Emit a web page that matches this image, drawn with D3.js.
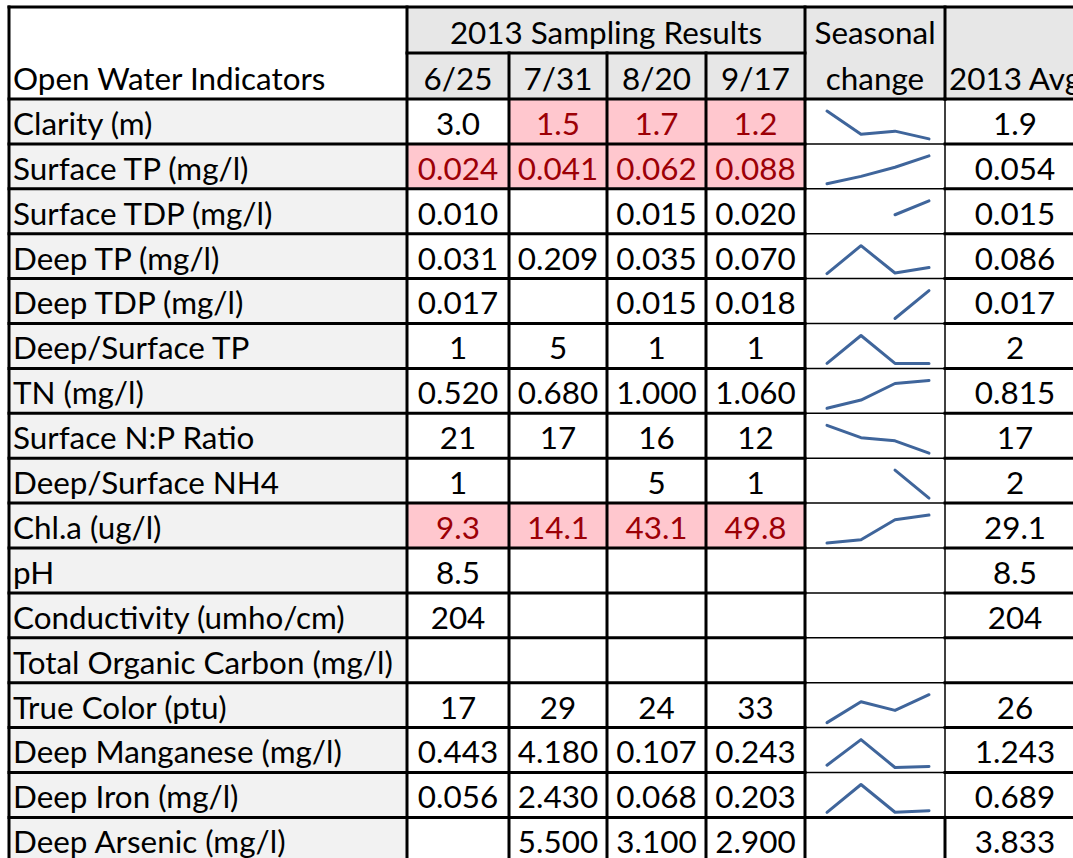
<!DOCTYPE html>
<html>
<head>
<meta charset="utf-8">
<script src="https://cdn.jsdelivr.net/npm/d3@7"></script>
<style>
  body { margin: 0; background: #fff; }
  svg text { font-family: Lato, "Open Sans", sans-serif; fill: #000; }
</style>
</head>
<body>
<div id="table"></div>
<script>
// table data
let indicators = [
  "Clarity (m)", "Surface TP (mg/l)", "Surface TDP (mg/l)", "Deep TP (mg/l)",
  "Deep TDP (mg/l)", "Deep/Surface TP", "TN (mg/l)", "Surface N:P Ratio",
  "Deep/Surface NH4", "Chl.a (ug/l)", "pH", "Conductivity (umho/cm)",
  "Total Organic Carbon (mg/l)", "True Color (ptu)", "Deep Manganese (mg/l)",
  "Deep Iron (mg/l)", "Deep Arsenic (mg/l)"
];
let dates = ["6/25", "7/31", "8/20", "9/17"];

let jun25 = [3.0, 0.024, 0.010, 0.031, 0.017, 1, 0.520, 21, 1, 9.3, 8.5, 204, null, 17, 0.443, 0.056, null];
let jul31 = [1.5, 0.041, null, 0.209, null, 5, 0.680, 17, null, 14.1, null, null, null, 29, 4.180, 2.430, 5.500];
let aug20 = [1.7, 0.062, 0.015, 0.035, 0.015, 1, 1.000, 16, 5, 43.1, null, null, null, 24, 0.107, 0.068, 3.100];
let sep17 = [1.2, 0.088, 0.020, 0.070, 0.018, 1, 1.060, 12, 1, 49.8, null, null, null, 33, 0.243, 0.203, 2.900];
let avg2013 = [1.9, 0.054, 0.015, 0.086, 0.017, 2, 0.815, 17, 2, 29.1, 8.5, 204, null, 26, 1.243, 0.689, 3.833];
let decimals = [1, 3, 3, 3, 3, 0, 3, 0, 0, 1, 1, 0, 0, 0, 3, 3, 3];

// cells flagged red in the sheet: [row, date index]
let flagged = [[0, 1], [0, 2], [0, 3], [1, 0], [1, 1], [1, 2], [1, 3], [9, 0], [9, 1], [9, 2], [9, 3]];
// rows whose seasonal sparkline is blank in the sheet
let noTrend = ["Deep Arsenic (mg/l)"];

let columns = [jun25, jul31, aug20, sep17];

// layout
let svgWidth = 1073, svgHeight = 858;
let colX = [9, 407, 509, 607, 706, 805, 945, 1085];
let headTop = 7, headMid = 53, headBottom = 99;
let rowH = 44.9;

let svg = d3.select("#table").append("svg")
  .attr("width", svgWidth)
  .attr("height", svgHeight);

// fit the font to the width the sheet gives the longest label
let probe = svg.append("text").attr("font-size", 100).text("Total Organic Carbon (mg/l)");
let fontSize = 100 * 380 / probe.node().getComputedTextLength();
probe.remove();

let y = d3.scaleLinear().domain([0, indicators.length]).range([headBottom, headBottom + rowH * indicators.length]);

let isFlagged = (r, c) => flagged.some(f => f[0] === r && f[1] === c);

// ---- header cells
let head = svg.append("g");
head.append("rect").attr("x", colX[0]).attr("y", headTop).attr("width", colX[1] - colX[0]).attr("height", headBottom - headTop).attr("fill", "#fff");
head.append("rect").attr("x", colX[1]).attr("y", headTop).attr("width", colX[7] - colX[1]).attr("height", headBottom - headTop).attr("fill", "#e7e7e7");

head.append("text").attr("x", colX[0] + 4).attr("y", headBottom - 9).attr("font-size", fontSize).text("Open Water Indicators");
head.append("text").attr("x", (colX[1] + colX[5]) / 2).attr("y", headMid - 9).attr("text-anchor", "middle").attr("font-size", fontSize).text("2013 Sampling Results");
head.selectAll(".date").data(dates).enter().append("text")
  .attr("x", (d, i) => (colX[i + 1] + colX[i + 2]) / 2)
  .attr("y", headBottom - 9)
  .attr("text-anchor", "middle")
  .attr("font-size", fontSize)
  .text(d => d);
head.append("text").attr("x", (colX[5] + colX[6]) / 2).attr("y", headMid - 9).attr("text-anchor", "middle").attr("font-size", fontSize).text("Seasonal");
head.append("text").attr("x", (colX[5] + colX[6]) / 2).attr("y", headBottom - 9).attr("text-anchor", "middle").attr("font-size", fontSize).text("change");
head.append("text").attr("x", (colX[6] + colX[7]) / 2).attr("y", headBottom - 9).attr("text-anchor", "middle").attr("font-size", fontSize).text("2013 Avg");

// ---- body rows
let rows = svg.append("g").selectAll("g").data(indicators).enter().append("g")
  .attr("transform", (d, i) => `translate(0,${y(i)})`);

rows.append("rect").attr("x", colX[0]).attr("width", colX[1] - colX[0]).attr("height", rowH).attr("fill", "#f2f2f2");
rows.append("rect").attr("x", colX[1]).attr("width", colX[7] - colX[1]).attr("height", rowH).attr("fill", "#fff");
rows.append("text").attr("x", colX[0] + 4).attr("y", rowH - 9).attr("font-size", fontSize).text(d => d);

dates.forEach((dt, c) => {
  rows.filter((d, r) => isFlagged(r, c)).append("rect")
    .attr("x", colX[c + 1]).attr("width", colX[c + 2] - colX[c + 1]).attr("height", rowH)
    .attr("fill", "#ffc7ce");
  rows.append("text")
    .attr("x", (colX[c + 1] + colX[c + 2]) / 2)
    .attr("y", rowH - 9)
    .attr("text-anchor", "middle")
    .attr("font-size", fontSize)
    .style("fill", (d, r) => isFlagged(r, c) ? "#9c0006" : "#000")
    .text((d, r) => columns[c][r] == null ? "" : columns[c][r].toFixed(decimals[r]));
});

rows.append("text")
  .attr("x", (colX[6] + colX[7]) / 2)
  .attr("y", rowH - 9)
  .attr("text-anchor", "middle")
  .attr("font-size", fontSize)
  .text((d, r) => avg2013[r] == null ? "" : avg2013[r].toFixed(decimals[r]));

// ---- sparklines (gaps break the line, lone points are not drawn)
let sx = d3.scalePoint().domain(dates).range([colX[5] + 22, colX[5] + 124]);
rows.each(function(d, r) {
  if (noTrend.includes(d)) return;
  let vals = columns.map(col => col[r]);
  let present = vals.filter(v => v != null);
  if (present.length < 2) return;
  let linked = vals.map((v, i) => v != null && (vals[i - 1] != null || vals[i + 1] != null) ? v : null);
  let sy = d3.scaleLinear().domain(d3.extent(present)).range([rowH - 5, 12]);
  let line = d3.line()
    .defined(v => v != null)
    .x((v, i) => sx(dates[i]))
    .y(v => sy(v));
  d3.select(this).append("path")
    .attr("d", line(linked))
    .attr("fill", "none")
    .attr("stroke", "#3f659b")
    .attr("stroke-width", 3)
    .attr("stroke-linecap", "round")
    .attr("stroke-linejoin", "round");
});

// ---- grid lines
let grid = svg.append("g").attr("stroke", "#000").attr("stroke-linecap", "square");
let bodyBottom = y(indicators.length);
let last = indicators.length - 1;

// horizontal
grid.append("line").attr("x1", colX[0]).attr("x2", colX[7]).attr("y1", headTop).attr("y2", headTop).attr("stroke-width", 3);
grid.append("line").attr("x1", colX[1]).attr("x2", colX[5]).attr("y1", headMid).attr("y2", headMid).attr("stroke-width", 3);
d3.range(indicators.length + 1).forEach(i => {
  let yy = y(i);
  grid.append("line").attr("x1", colX[0]).attr("x2", colX[5]).attr("y1", yy).attr("y2", yy).attr("stroke-width", 3);
  grid.append("line").attr("x1", colX[6]).attr("x2", colX[7]).attr("y1", yy).attr("y2", yy).attr("stroke-width", 3);
  let thick = i === 0 || i >= last;
  grid.append("line").attr("x1", colX[5]).attr("x2", colX[6]).attr("y1", yy).attr("y2", yy).attr("stroke-width", thick ? 3 : 1.5);
});

// vertical
[0, 1, 2, 3, 4, 5].forEach(c => {
  let top = (c === 2 || c === 3 || c === 4) ? headMid : headTop;
  grid.append("line").attr("x1", colX[c]).attr("x2", colX[c]).attr("y1", top).attr("y2", bodyBottom).attr("stroke-width", 3);
});
grid.append("line").attr("x1", colX[6]).attr("x2", colX[6]).attr("y1", headTop).attr("y2", headBottom).attr("stroke-width", 3);
grid.append("line").attr("x1", colX[6]).attr("x2", colX[6]).attr("y1", headBottom).attr("y2", y(last)).attr("stroke-width", 1.5);
grid.append("line").attr("x1", colX[6]).attr("x2", colX[6]).attr("y1", y(last)).attr("y2", bodyBottom).attr("stroke-width", 3);
</script>
</body>
</html>
